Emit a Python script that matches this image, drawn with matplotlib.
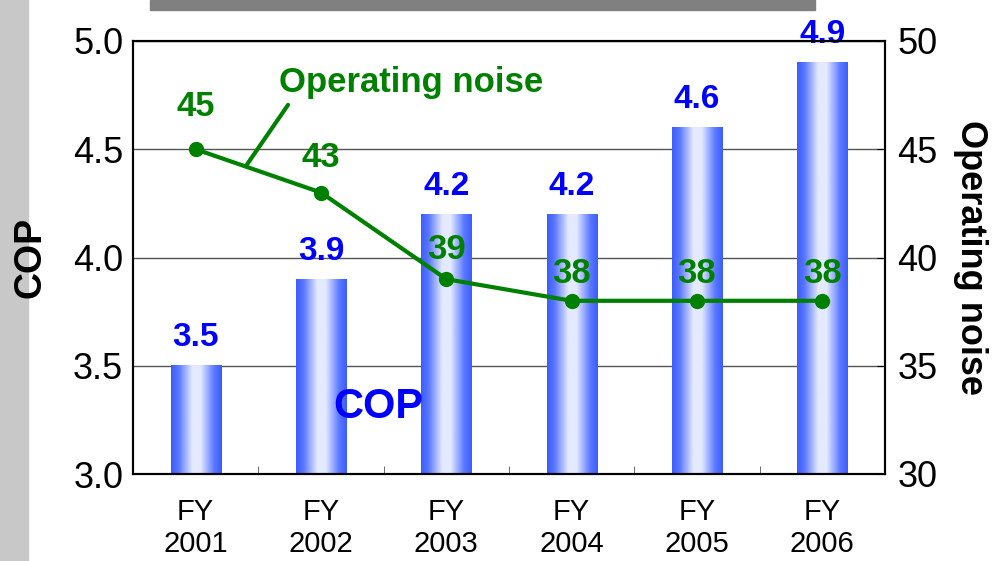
import numpy as np
import matplotlib.pyplot as plt
from matplotlib.colors import LinearSegmentedColormap
from matplotlib.patches import Rectangle

plt.rcParams['font.family'] = ['Liberation Sans', 'DejaVu Sans']

# 数据
years = ['FY\n2001', 'FY\n2002', 'FY\n2003', 'FY\n2004', 'FY\n2005', 'FY\n2006']
cop = [3.5, 3.9, 4.2, 4.2, 4.6, 4.9]
noise = [45, 43, 39, 38, 38, 38]
noise_label_dy = [31, 25, 21, 20, 20, 20]  # 标签与点的距离(points)

fig = plt.figure(figsize=(9.94, 5.61), dpi=100)
# 左侧灰条和顶部灰条 (zorder放在坐标轴下面)
fig.patches.append(Rectangle((0, 0), 28 / 994, 1, transform=fig.transFigure,
                             color='#c8c8c8', zorder=-1))
fig.patches.append(Rectangle((150 / 994, 1 - 10 / 561), 665 / 994, 10 / 561,
                             transform=fig.transFigure, color='#808080', zorder=-1))

ax = fig.add_axes([133 / 994, 1 - 474 / 561, 752 / 994, 433 / 561])
ax.patch.set_alpha(0)
x = np.arange(len(years))
w = 0.4

# 渐变柱子
cmap = LinearSegmentedColormap.from_list(
    'bar', [(0, '#3a5cff'), (0.15, '#5a78ff'), (0.42, '#e4eaff'),
            (0.58, '#e4eaff'), (0.85, '#5a78ff'), (1, '#3a5cff')])
grad = np.linspace(0, 1, 256).reshape(1, -1)
for xi, v in zip(x, cop):
    ax.imshow(grad, extent=[xi - w / 2, xi + w / 2, 3.0, v], aspect='auto',
              cmap=cmap, zorder=2, interpolation='bicubic')
    ax.annotate(f'{v:.1f}', (xi, v), xytext=(0, 9), textcoords='offset points',
                ha='center', va='bottom', fontsize=24, fontweight='bold', color='#0000ff')

ax.set_xlim(-0.5, len(years) - 0.5)
ax.set_ylim(3.0, 5.0)
ax.set_yticks([3.0, 3.5, 4.0, 4.5, 5.0])
ax.set_yticklabels(['3.0', '3.5', '4.0', '4.5', '5.0'])
ax.set_xticks(x)
ax.set_xticklabels(years, linespacing=1.2)
ax.set_xticks(np.arange(0.5, len(years) - 1, 1), minor=True)
ax.tick_params(axis='x', which='major', length=0, pad=17, labelsize=21)
ax.tick_params(axis='x', which='minor', direction='in', length=6, color='#555555')
ax.tick_params(axis='y', direction='in', length=0, pad=7, labelsize=26)
ax.grid(axis='y', color='#555555', linewidth=1)
ax.set_axisbelow(True)
for s in ax.spines.values():
    s.set_linewidth(1.5)
ax.set_ylabel('COP', fontsize=27, fontweight='bold')
ax.yaxis.set_label_coords(-0.113, 0.5)
ax.text(1.46, 3.31, 'COP', fontsize=30, fontweight='bold', color='#0000ff',
        ha='center', va='center', zorder=5)

# 噪声折线
ax2 = ax.twinx()
ax2.plot(x, noise, color='#008000', linewidth=3, marker='o', markersize=10, zorder=4)
for xi, v, dy in zip(x, noise, noise_label_dy):
    ax2.annotate(str(v), (xi, v), xytext=(0, dy), textcoords='offset points',
                 ha='center', va='center', fontsize=25, fontweight='bold', color='#008000')
ax2.set_ylim(30, 50)
ax2.set_yticks([30, 35, 40, 45, 50])
ax2.tick_params(axis='y', direction='in', length=6, pad=9, labelsize=26)
ax2.set_ylabel('Operating noise', fontsize=26, fontweight='bold', rotation=270)
ax2.yaxis.set_label_coords(1.137, 0.5)
for s in ax2.spines.values():
    s.set_linewidth(1.5)
ax2.annotate('Operating noise', xy=(0.41, 44.3), xytext=(1.72, 48.1),
             fontsize=25, fontweight='bold', color='#008000', ha='center', va='center',
             arrowprops=dict(arrowstyle='-', color='#008000', lw=3,
                             relpos=(0.05, 0.0), shrinkA=3, shrinkB=0))

plt.savefig('out.png', dpi=100)
